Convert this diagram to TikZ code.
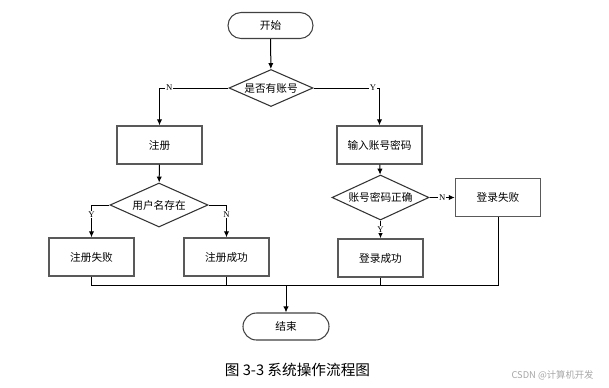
\documentclass[tikz,border=0pt]{standalone}
\usepackage{fontspec}
\setmainfont{Noto Sans CJK SC}
\newfontfamily\latinserif{Liberation Serif}
\usetikzlibrary{arrows.meta,shapes.geometric,shapes.misc}

\begin{document}
\begin{tikzpicture}[
  x=0.75pt,y=-0.75pt,
  font=\fontsize{8}{10}\selectfont,
  >={Latex[length=4.5pt,width=4pt]},
  term/.style={draw=black!75,line width=0.8pt,rounded rectangle,minimum width=63.75pt,minimum height=19.5pt,inner sep=0pt},
  box/.style={draw=black!65,line width=1.1pt,minimum width=63.75pt,minimum height=28.5pt,inner sep=0pt},
  cond/.style={draw=black!80,line width=0.8pt,diamond,aspect=2.2,inner sep=0pt},
  link/.style={line width=0.75pt},
  flow/.style={->,line width=0.75pt},
  yn/.style={font=\latinserif\fontsize{6.5}{7}\selectfont,fill=white,inner sep=0.6pt}
]
\useasboundingbox (0,0) rectangle (609,387);
\node[term] (start) at (270.5,25.5) {开始};
\node[cond,minimum width=63pt,minimum height=27.75pt] (hasacct) at (271,88) {是否有账号};
\node[box] (reg) at (159.5,145) {注册};
\node[box] (login) at (379.5,145) {输入账号密码};
\node[cond,minimum width=73.5pt,minimum height=33pt] (exists) at (159,205) {用户名存在};
\node[cond,minimum width=72.75pt,minimum height=33.75pt] (pwdok) at (380.5,197.5) {账号密码正确};
\node[box] (regfail) at (91.5,257) {注册失败};
\node[box] (regok) at (226.5,257) {注册成功};
\node[box] (loginok) at (380.5,258) {登录成功};
\node[box] (loginfail) at (498,197.5) {登录失败};
\node[term,minimum width=64.5pt,minimum height=20.25pt] (end) at (286,326.5) {结束};
\coordinate (join) at (286,285);

\draw[flow] (start) -- (hasacct);
\draw[flow] (hasacct.west) -| node[yn,pos=0.43] {N} (reg.north);
\draw[flow] (hasacct.east) -| node[yn,pos=0.45] {Y} (login.north);
\draw[flow] (reg) -- (exists);
\draw[flow] (login) -- (pwdok);
\draw[flow] (exists.west) -| node[yn,pos=0.65] {Y} (regfail.north);
\draw[flow] (exists.east) -| node[yn,pos=0.65] {N} (regok.north);
\draw[flow] (pwdok.east) -- node[yn] {N} (loginfail.west);
\draw[flow] (pwdok.south) -- node[yn] {Y} (loginok.north);

\draw[link] (regfail.south) |- (join);
\draw[link] (regok.south) |- (join);
\draw[link] (loginok.south) |- (join);
\draw[link] (loginfail.south) |- (join);
\draw[flow] (join) -- (end.north);

\node[font=\fontsize{11}{13}\selectfont] (caption) at (297.5,370) {图 3-3 系统操作流程图};
\node[font=\fontsize{7}{8}\selectfont,text=black!35] (mark) at (552.5,375) {CSDN @计算机开发};
\end{tikzpicture}
\end{document}
